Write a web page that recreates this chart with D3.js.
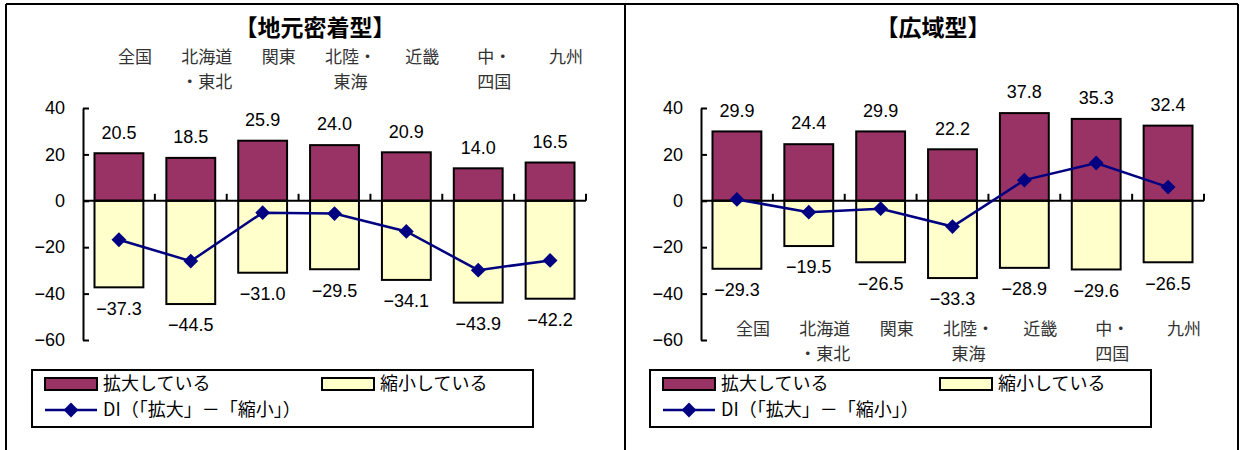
<!DOCTYPE html>
<html>
<head>
<meta charset="utf-8">
<script src="https://cdn.jsdelivr.net/npm/d3@7"></script>
<style>
  body { margin: 0; background: #fff; }
  svg { display: block; }
  text { font-family: "Liberation Sans", "Noto Sans CJK JP", sans-serif; }
</style>
</head>
<body>
<div id="container"></div>
<script>
/* DATA */
const categories = ["全国", "北海道\n・東北", "関東", "北陸・\n東海", "近畿", "中・\n四国", "九州"]
const yTicks = [40, 20, 0, -20, -40, -60]

// 地元密着型
const localExpand = [20.5, 18.5, 25.9, 24.0, 20.9, 14.0, 16.5]
const localShrink = [-37.3, -44.5, -31.0, -29.5, -34.1, -43.9, -42.2]
const localDI = [-16.8, -26.0, -5.1, -5.5, -13.2, -29.9, -25.7]

// 広域型
const wideExpand = [29.9, 24.4, 29.9, 22.2, 37.8, 35.3, 32.4]
const wideShrink = [-29.3, -19.5, -26.5, -33.3, -28.9, -29.6, -26.5]
const wideDI = [0.6, -4.9, -3.4, -11.1, 8.9, 16.3, 5.9]

const legendLabels = ["拡大している", "縮小している", "DI（「拡大」－「縮小」）"]

/* CONSTANTS */
const W = 1243, H = 450
const plotW = 503
const maroon = "#993366", cream = "#FFFFCC", navy = "#000080"
const fmt = d3.format(".1f")

const svg = d3.select("#container")
  .append("svg")
    .attr("width", W)
    .attr("height", H)

// outer frame
const frame = svg.append("g").attr("stroke", "#000").attr("stroke-width", 2)
frame.append("line").attr("x1", 6).attr("x2", 1238).attr("y1", 4).attr("y2", 4)
;[6, 625, 1238].forEach(x => {
  frame.append("line").attr("x1", x).attr("x2", x).attr("y1", 4).attr("y2", H)
})

function drawPanel(opt) {
  const rows = categories.map((c, i) => ({cat: c, expand: opt.expand[i], shrink: opt.shrink[i], di: opt.di[i]}))
  const g = svg.append("g")

  // SCALES
  const x = d3.scaleBand()
    .domain(categories)
    .range([opt.axisX, opt.axisX + plotW])
    .paddingInner(0.32)
    .paddingOuter(0.16)
  const y = d3.scaleLinear()
    .domain([-60, 40])
    .range([340, 108])

  // title
  g.append("text")
    .attr("x", opt.titleX)
    .attr("y", 28)
    .attr("dy", "0.35em")
    .attr("text-anchor", "middle")
    .style("font-family", "'Noto Sans CJK JP'")
    .style("font-weight", "bold")
    .style("font-size", "23px")
    .text(opt.title)

  // bars
  g.selectAll("rect.up")
    .data(rows)
    .join("rect")
      .attr("class", "up")
      .attr("x", d => x(d.cat))
      .attr("y", d => y(d.expand))
      .attr("width", x.bandwidth())
      .attr("height", d => y(0) - y(d.expand))
      .attr("fill", maroon)
      .attr("stroke", "#000")
      .attr("stroke-width", 2)

  g.selectAll("rect.down")
    .data(rows)
    .join("rect")
      .attr("class", "down")
      .attr("x", d => x(d.cat))
      .attr("y", y(0))
      .attr("width", x.bandwidth())
      .attr("height", d => y(d.shrink) - y(0))
      .attr("fill", cream)
      .attr("stroke", "#000")
      .attr("stroke-width", 2)

  // y axis
  const yAxis = g.append("g")
    .attr("transform", "translate(" + opt.axisX + ",0)")
    .call(d3.axisLeft(y).tickValues(yTicks).tickSizeInner(-6).tickSizeOuter(0).tickPadding(18)
      .tickFormat(d => (d < 0 ? "\u2212" : "") + Math.abs(d)))
  yAxis.select(".domain").attr("stroke-width", 2)
  yAxis.selectAll(".tick line").attr("stroke-width", 2)
  yAxis.selectAll(".tick text")
    .attr("fill", "#000")
    .style("font-size", "18px")

  // zero line with boundary ticks
  g.append("line")
    .attr("x1", opt.axisX).attr("x2", opt.axisX + plotW)
    .attr("y1", y(0)).attr("y2", y(0))
    .attr("stroke", "#000").attr("stroke-width", 2)
  g.selectAll("line.bound")
    .data(d3.range(1, categories.length + 1))
    .join("line")
      .attr("class", "bound")
      .attr("x1", i => opt.axisX + i * x.step())
      .attr("x2", i => opt.axisX + i * x.step())
      .attr("y1", y(0))
      .attr("y2", y(0) - 7)
      .attr("stroke", "#000")
      .attr("stroke-width", 2)

  // DI line
  const cx = d => x(d.cat) + x.bandwidth() / 2
  g.append("path")
    .datum(rows)
    .attr("fill", "none")
    .attr("stroke", navy)
    .attr("stroke-width", 2.5)
    .attr("d", d3.line().x(cx).y(d => y(d.di)))
  g.selectAll("path.mark")
    .data(rows)
    .join("path")
      .attr("class", "mark")
      .attr("d", d3.symbol(d3.symbolSquare, 110))
      .attr("transform", d => "translate(" + cx(d) + "," + y(d.di) + ") rotate(45)")
      .attr("fill", navy)

  // value labels
  g.selectAll("text.vup")
    .data(rows)
    .join("text")
      .attr("class", "vup")
      .attr("x", cx)
      .attr("y", d => y(d.expand) - 21)
      .attr("dy", "0.35em")
      .attr("text-anchor", "middle")
      .style("font-size", "18px")
      .text(d => fmt(d.expand))
  g.selectAll("text.vdown")
    .data(rows)
    .join("text")
      .attr("class", "vdown")
      .attr("x", cx)
      .attr("y", d => y(d.shrink) + 21)
      .attr("dy", "0.35em")
      .attr("text-anchor", "middle")
      .style("font-size", "18px")
      .text(d => fmt(d.shrink))

  // category labels (one text per line)
  const lines = rows.flatMap(d => d.cat.split("\n").map((s, i) => ({s, i, c: cx(d)})))
  g.selectAll("text.cat")
    .data(lines)
    .join("text")
      .attr("class", "cat")
      .attr("x", t => t.c + 16)
      .attr("y", t => opt.catY + t.i * 25)
      .attr("dy", "0.35em")
      .attr("text-anchor", "middle")
      .attr("fill", "#333")
      .style("font-family", "'Noto Sans CJK JP'")
      .style("font-size", "17px")
      .text(t => t.s)

  // legend
  const L = opt.axisX - 51, T = 370
  const lg = g.append("g").attr("transform", "translate(" + L + "," + T + ")")
  lg.append("rect")
    .attr("width", plotW - 2).attr("height", 57)
    .attr("fill", "#fff").attr("stroke", "#000").attr("stroke-width", 2)
  const swatches = [{dx: 13, fill: maroon, label: legendLabels[0]}, {dx: 290, fill: cream, label: legendLabels[1]}]
  swatches.forEach(s => {
    lg.append("rect")
      .attr("x", s.dx).attr("y", 8).attr("width", 52).attr("height", 12)
      .attr("fill", s.fill).attr("stroke", "#000").attr("stroke-width", 2)
    lg.append("text")
      .attr("x", s.dx + 58).attr("y", 14).attr("dy", "0.35em")
      .style("font-family", "'Noto Sans CJK JP'")
      .style("font-size", "18px")
      .text(s.label)
  })
  lg.append("line")
    .attr("x1", 13).attr("x2", 65).attr("y1", 40).attr("y2", 40)
    .attr("stroke", navy).attr("stroke-width", 2.5)
  lg.append("path")
    .attr("d", d3.symbol(d3.symbolSquare, 110))
    .attr("transform", "translate(39,40) rotate(45)")
    .attr("fill", navy)
  lg.append("text")
    .attr("x", 71).attr("y", 40).attr("dy", "0.35em")
    .style("font-family", "'Noto Sans CJK JP'")
    .style("font-size", "18px")
    .text(legendLabels[2])
}

drawPanel({axisX: 83, titleX: 315, title: "【地元密着型】", expand: localExpand, shrink: localShrink, di: localDI, catY: 57})
drawPanel({axisX: 701, titleX: 933, title: "【広域型】", expand: wideExpand, shrink: wideShrink, di: wideDI, catY: 329})
</script>
</body>
</html>
